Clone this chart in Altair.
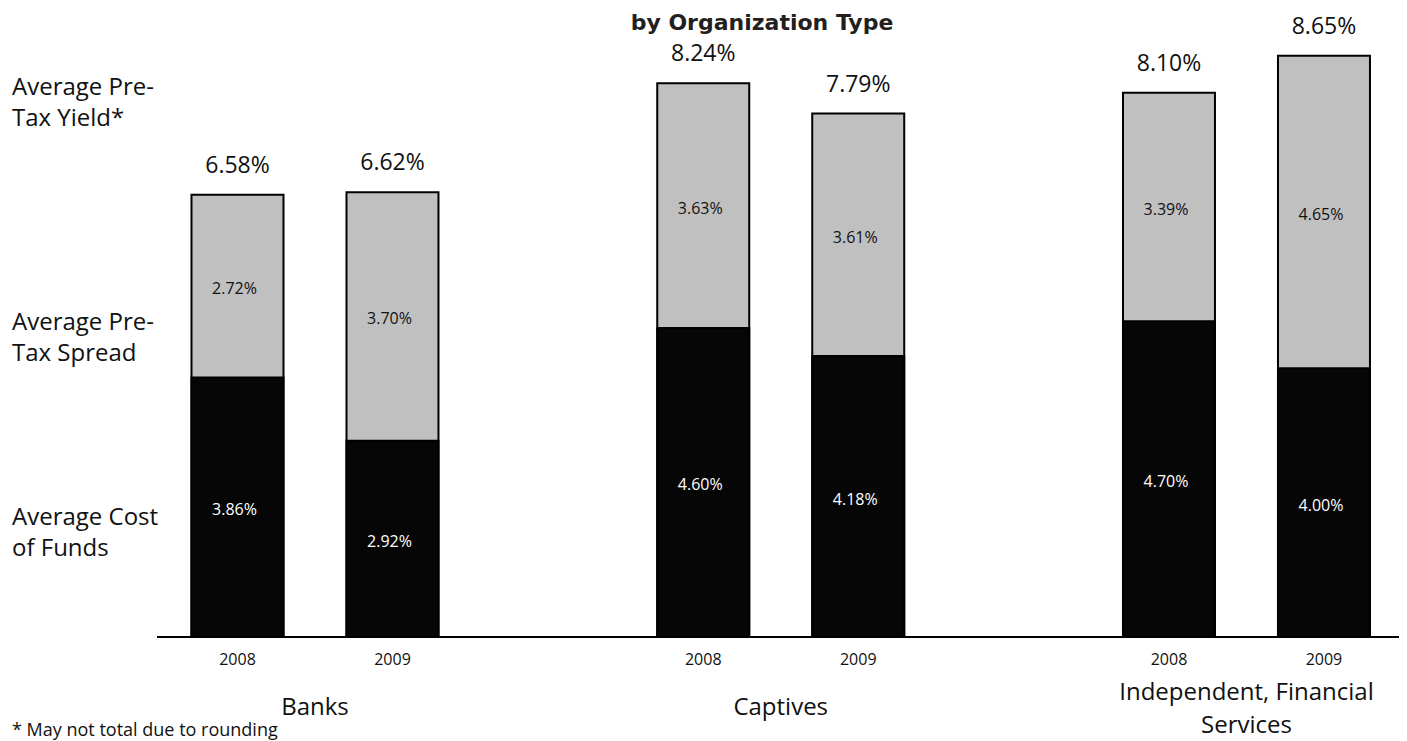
import altair as alt
import pandas as pd

# ---- data ----
organizations = ["Banks", "Captives", "Independent, Financial Services"]
org_labels = ["Banks", "Captives", "Independent, Financial\nServices"]
years = ["2008", "2009"]
cost_of_funds = [3.86, 2.92, 4.60, 4.18, 4.70, 4.00]
pre_tax_spread = [2.72, 3.70, 3.63, 3.61, 3.39, 4.65]
pre_tax_yield = [6.58, 6.62, 8.24, 7.79, 8.10, 8.65]

rows = []
i = 0
for org in organizations:
    for yr in years:
        rows.append({"org": org, "year": yr, "cost": cost_of_funds[i],
                     "spread": pre_tax_spread[i], "yield": pre_tax_yield[i]})
        i += 1
df = pd.DataFrame(rows)
df_org = pd.DataFrame({"org": organizations, "label": org_labels})

W, H = 1242, 629
FONT = "Open Sans"

x_enc = alt.X("org:N", sort=organizations, axis=None,
              scale=alt.Scale(paddingInner=0.4697, paddingOuter=0.0682, align=0.543))
xo_enc = alt.XOffset("year:N", sort=years,
                     scale=alt.Scale(paddingInner=0.4065, paddingOuter=0))
y_scale = alt.Scale(domain=[0, 9.36], nice=False, zero=True)

base = alt.Chart(df).transform_calculate(
    mid_cost="datum.cost / 2",
    mid_spread="datum.cost + datum.spread / 2",
    yield_lbl="format(datum.yield, '.2f') + '%'",
    cost_lbl="format(datum.cost, '.2f') + '%'",
    spread_lbl="format(datum.spread, '.2f') + '%'",
)

baseline_rule = alt.Chart(df).mark_rule(color="black", strokeWidth=2).encode(
    x=alt.value(0), x2=alt.value(W), y=alt.value(H)
)

gray_bars = base.mark_bar(color="#c0c0c0", stroke="black", strokeWidth=2).encode(
    x=x_enc, xOffset=xo_enc,
    y=alt.Y("yield:Q", scale=y_scale, axis=None),
)
black_bars = base.mark_bar(color="#060606", stroke="black", strokeWidth=2).encode(
    x=x_enc, xOffset=xo_enc,
    y=alt.Y("cost:Q", scale=y_scale, axis=None),
)

top_labels = base.mark_text(font=FONT, fontSize=23, color="#111", baseline="alphabetic", dy=-22).encode(
    x=x_enc, xOffset=xo_enc,
    y=alt.Y("yield:Q", scale=y_scale, axis=None),
    text="yield_lbl:N",
)
cost_labels = base.mark_text(font=FONT, fontSize=16, color="white", baseline="middle", dy=3, dx=-3).encode(
    x=x_enc, xOffset=xo_enc,
    y=alt.Y("mid_cost:Q", scale=y_scale, axis=None),
    text="cost_lbl:N",
)
spread_labels = base.mark_text(font=FONT, fontSize=16, color="#111", baseline="middle", dy=3, dx=-3).encode(
    x=x_enc, xOffset=xo_enc,
    y=alt.Y("mid_spread:Q", scale=y_scale, axis=None),
    text="spread_lbl:N",
)
year_labels = base.mark_text(font=FONT, fontSize=16, color="#111", baseline="middle").encode(
    x=x_enc, xOffset=xo_enc,
    y=alt.value(H + 23),
    text="year:N",
)

org_base = alt.Chart(df_org).transform_calculate(
    nlines="length(split(datum.label, '\\n'))"
)
group_labels_single = org_base.transform_filter("datum.nlines == 1").mark_text(
    font=FONT, fontSize=24, color="#111", baseline="middle"
).encode(x=x_enc, y=alt.value(H + 71), text="label:N")
group_labels_multi = org_base.transform_filter("datum.nlines > 1").mark_text(
    font=FONT, fontSize=24, color="#111", baseline="middle", lineBreak="\n", lineHeight=33
).encode(x=x_enc, y=alt.value(H + 56), text="label:N")

def side_label(txt, y_first):
    return alt.Chart(pd.DataFrame({"t": [txt]})).mark_text(
        font=FONT, fontSize=24, color="#111", align="left", baseline="middle",
        lineBreak="\n", lineHeight=31
    ).encode(x=alt.value(-145), y=alt.value(y_first), text="t:N")

lbl_yield = side_label("Average Pre-\nTax Yield*", 80)
lbl_spread = side_label("Average Pre-\nTax Spread", 315)
lbl_cost = side_label("Average Cost\nof Funds", 510)

title = alt.Chart(pd.DataFrame({"t": ["by Organization Type"]})).mark_text(
    font="DejaVu Sans", fontWeight="bold", fontSize=22, color="#231f20",
    align="center", baseline="alphabetic"
).encode(x=alt.value(605), y=alt.value(22), text="t:N")

footnote = alt.Chart(pd.DataFrame({"t": ["* May not total due to rounding"]})).mark_text(
    font=FONT, fontSize=18, color="#111", align="left", baseline="alphabetic"
).encode(x=alt.value(-145), y=alt.value(H + 99), text="t:N")

chart = alt.layer(
    baseline_rule, gray_bars, black_bars, top_labels, cost_labels, spread_labels,
    year_labels, group_labels_single, group_labels_multi,
    lbl_yield, lbl_spread, lbl_cost, title, footnote
).properties(
    width=W, height=H,
    autosize=alt.AutoSizeParams(type="none"),
    padding={"left": 149, "top": 0, "right": 0, "bottom": 110},
).configure(font=FONT).configure_view(stroke=None, strokeWidth=0)

chart.save("out.html", embed_options={"renderer": "svg", "actions": False})
